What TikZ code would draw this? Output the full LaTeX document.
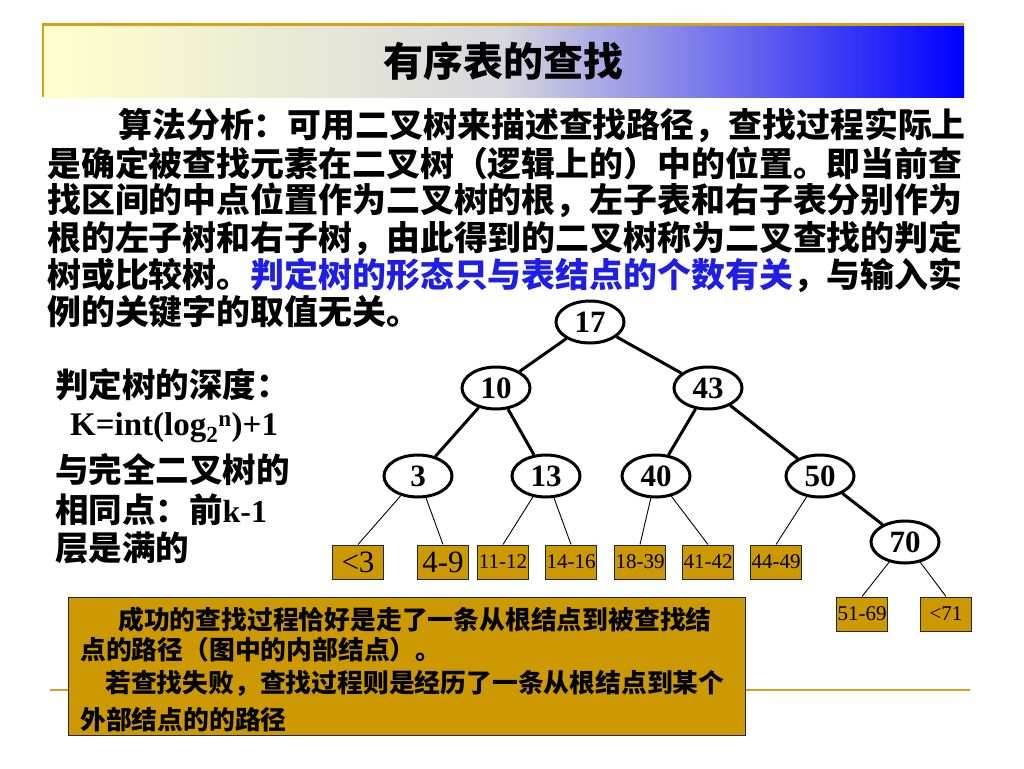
\documentclass[tikz,border=0pt]{standalone}
\usepackage{fontspec}
\setmainfont{Liberation Serif}
\newfontfamily\cjk{Noto Sans CJK SC}
\usetikzlibrary{shapes.geometric}
\definecolor{gold}{RGB}{204,153,0}
\definecolor{goldline}{RGB}{212,160,23}
\definecolor{bluetext}{RGB}{30,30,230}
\definecolor{titleleft}{RGB}{255,255,204}
\definecolor{titlemid}{RGB}{215,215,222}
\definecolor{titleright}{RGB}{0,0,255}
\begin{document}
\begin{tikzpicture}[x=1pt,y=-1pt,
  inner/.style={ellipse,draw,line width=3pt,fill=white,minimum width=68pt,minimum height=42pt,inner sep=0pt,font=\fontsize{31}{31}\selectfont\bfseries},
  leafbox/.style={rectangle,draw=black!85,line width=1pt,fill=gold,minimum width=51pt,minimum height=34pt,inner sep=0pt,font=\fontsize{21}{21}\selectfont},
  bigleaf/.style={leafbox,font=\fontsize{31}{31}\selectfont},
  thickedge/.style={line width=3pt},
  thinedge/.style={line width=0.9pt},
  para/.style={anchor=west,inner sep=0pt,font=\cjk\bfseries\fontsize{33.9}{34}\selectfont},
  side/.style={anchor=west,inner sep=0pt,font=\cjk\bfseries\fontsize{33.5}{34}\selectfont},
  boxtext/.style={anchor=west,inner sep=0pt,font=\cjk\bfseries\fontsize{25.8}{26}\selectfont}
]
\useasboundingbox (0,0) rectangle (1024,768);
\fill[white] (0,0) rectangle (1024,768);
% title bar
\shade[left color=titleleft,right color=titleright,middle color=titlemid] (42,26) rectangle (964,97);
\draw[goldline,line width=3pt] (42,25) -- (964,25);
\draw[goldline,line width=2pt] (43,25) -- (43,97);
\node[inner sep=0pt,font=\cjk\bfseries\fontsize{40}{40}\selectfont] (title) at (503,61) {有序表的查找};
% bottom gold line
\draw[goldline,line width=2pt] (50,690) -- (970,690);
% paragraph
\node[para,anchor=east] (p1) at (966,125) {算法分析：可用二叉树来描述查找路径，查找过程实际上};
\node[para] (p2) at (47,163) {是确定被查找元素在二叉树（逻辑上的）中的位置。即当前查};
\node[para] (p3) at (47,200) {找区间的中点位置作为二叉树的根，左子表和右子表分别作为};
\node[para] (p4) at (47,238) {根的左子树和右子树，由此得到的二叉树称为二叉查找的判定};
\node[para] (p5) at (47,275) {树或比较树。\textcolor{bluetext}{判定树的形态只与表结点的个数有关}，与输入实};
\node[para] (p6) at (47,312) {例的关键字的取值无关。};
% side text
\node[side] (s1) at (55,385) {判定树的深度：};
\node[anchor=west,inner sep=0pt,font=\fontsize{33}{33}\selectfont\bfseries] (s2) at (70,428) {K=int(log\textsubscript{2}\textsuperscript{n})+1};
\node[side] (s3) at (55,470) {与完全二叉树的};
\node[side] (s4) at (55,510) {相同点：前{\rmfamily\fontsize{32}{32}\selectfont k-1}};
\node[side] (s5) at (55,548) {层是满的};
% tree
\node[inner] (n17) at (590,322) {17};
\node[inner] (n10) at (496,388) {10};
\node[inner] (n43) at (708,388) {43};
\node[inner] (n3) at (418,476) {3};
\node[inner] (n13) at (546,476) {13};
\node[inner] (n40) at (656,476) {40};
\node[inner] (n50) at (820,476) {50};
\node[inner] (n70) at (905,542) {70};
\draw[thickedge] (n17) -- (n10);
\draw[thickedge] (n17) -- (n43);
\draw[thickedge] (n10) -- (n3);
\draw[thickedge] (n10) -- (n13);
\draw[thickedge] (n43) -- (n40);
\draw[thickedge] (n43) -- (n50);
\draw[thickedge] (n50) -- (n70);
% leaves
\node[bigleaf] (l1) at (358,562) {<3};
\node[bigleaf] (l2) at (443,562) {4-9};
\node[leafbox] (l3) at (503,562) {11-12};
\node[leafbox] (l4) at (571,562) {14-16};
\node[leafbox] (l5) at (640,562) {18-39};
\node[leafbox] (l6) at (708,562) {41-42};
\node[leafbox] (l7) at (776,562) {44-49};
\node[leafbox] (l8) at (862,614) {51-69};
\node[leafbox] (l9) at (946,614) {<71};
\draw[thinedge] (n3) -- (l1.north);
\draw[thinedge] (n3) -- (l2.north);
\draw[thinedge] (n13) -- (l3.north);
\draw[thinedge] (n13) -- (l4.north);
\draw[thinedge] (n40) -- (l5.north);
\draw[thinedge] (n40) -- (l6.north);
\draw[thinedge] (n50) -- (l7.north);
\draw[thinedge] (n70) -- (l8.north);
\draw[thinedge] (n70) -- (l9.north);
% note box
\node[draw=black!85,line width=1pt,fill=gold,minimum width=677pt,minimum height=138pt,inner sep=0pt,anchor=north west] (note) at (68,597) {};
\node[boxtext] (b1) at (118,620) {成功的查找过程恰好是走了一条从根结点到被查找结};
\node[boxtext] (b2) at (80,650) {点的路径（图中的内部结点）。};
\node[boxtext] (b3) at (105,683) {若查找失败，查找过程则是经历了一条从根结点到某个};
\node[boxtext] (b4) at (80,720) {外部结点的的路径};
\end{tikzpicture}
\end{document}
